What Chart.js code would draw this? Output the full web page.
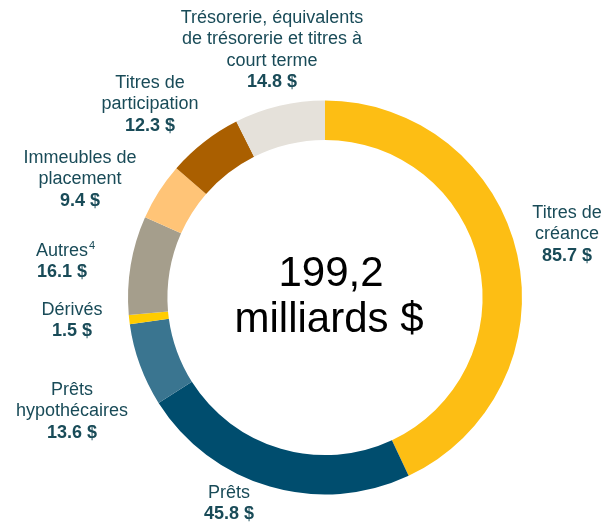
<!DOCTYPE html>
<html>
<head>
<meta charset="utf-8">
<script src="https://cdn.jsdelivr.net/npm/chart.js@4"></script>
<style>
    html, body { margin: 0; padding: 0; background: #fff; }
    #wrap { width: 604px; height: 523px; position: relative; }
</style>
</head>
<body>
<div id="wrap"><canvas id="assetsChart"></canvas></div>
<script>
// Categories, clockwise from the top
var categories = [
    ['Titres de', 'créance'],
    ['Prêts'],
    ['Prêts', 'hypothécaires'],
    ['Dérivés'],
    ['Autres'],
    ['Immeubles de', 'placement'],
    ['Titres de', 'participation'],
    ['Trésorerie, équivalents', 'de trésorerie et titres à', 'court terme']
];
var values = [85.7, 45.8, 13.6, 1.5, 16.1, 9.4, 12.3, 14.8];
var valueLabels = ['85.7 $', '45.8 $', '13.6 $', '1.5 $', '16.1 $', '9.4 $', '12.3 $', '14.8 $'];
var centerLines = ['199,2', 'milliards $'];

var sliceColors = ['#FDBE14', '#004D6E', '#3A7590', '#FFCC00', '#A59E8C', '#FFC477', '#AA5F00', '#E5E1DA'];

// Where each text block is centred (x) and where its first line sits (y)
var labelPos = [
    { x: 567, y: 213 },
    { x: 229, y: 493 },
    { x: 72, y: 390 },
    { x: 72, y: 310 },
    { x: 62, y: 251 },
    { x: 80, y: 158 },
    { x: 150, y: 83 },
    { x: 272, y: 18 }
];

const labelColor = '#194B58';
const lineHeight = 21.5;

// Plugin drawing the outside labels and the total in the middle
const textPlugin = {
    id: 'textPlugin',
    afterDraw: function(chart) {
        const ctx = chart.ctx;
        ctx.save();
        ctx.textAlign = 'center';
        ctx.textBaseline = 'middle';

        for (var i = 0; i < categories.length; i++) {
            var pos = labelPos[i];
            var lines = categories[i];
            ctx.fillStyle = labelColor;
            ctx.font = '18px "Liberation Sans", Arial, sans-serif';
            for (var j = 0; j < lines.length; j++) {
                ctx.fillText(lines[j], pos.x, pos.y + j * lineHeight);
            }
            // superscript note on "Autres"
            if (lines[0] === 'Autres') {
                var w = ctx.measureText('Autres').width;
                ctx.font = '11px "Liberation Sans", Arial, sans-serif';
                ctx.textAlign = 'left';
                ctx.fillText('4', pos.x + w / 2 + 1, pos.y - 5);
                ctx.textAlign = 'center';
            }
            ctx.font = 'bold 18px "Liberation Sans", Arial, sans-serif';
            ctx.fillText(valueLabels[i], pos.x, pos.y + lines.length * lineHeight);
        }

        // total in the middle of the ring
        const meta = chart.getDatasetMeta(0).data[0];
        ctx.fillStyle = '#000';
        ctx.font = '42px "Liberation Sans", Arial, sans-serif';
        ctx.fillText(centerLines[0], meta.x + 6, meta.y - 23);
        ctx.fillText(centerLines[1], meta.x + 4, meta.y + 23);
        ctx.restore();
    }
};

const ctx = document.getElementById('assetsChart').getContext('2d');
const chartData = {
    labels: categories.map(function(c) { return c.join(' '); }),
    datasets: [{
        data: values,
        backgroundColor: sliceColors,
        borderWidth: 0
    }]
};
const chartConfig = {
    type: 'doughnut',
    data: chartData,
    options: {
        responsive: true,
        maintainAspectRatio: false,
        animation: false,
        cutout: '80%',
        layout: {
            padding: { left: 128, right: 82, top: 100, bottom: 28 }
        },
        plugins: {
            legend: { display: false },
            tooltip: { enabled: false }
        }
    },
    plugins: [textPlugin]
};
const mainChart = new Chart(ctx, chartConfig);
</script>
</body>
</html>
